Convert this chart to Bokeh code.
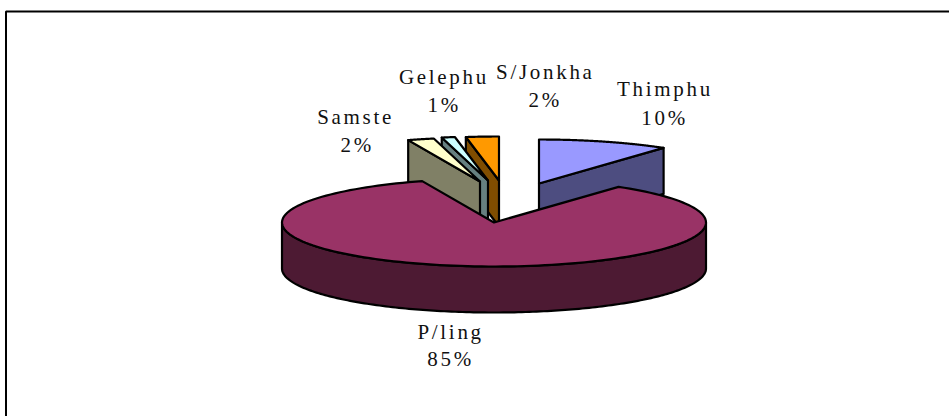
import numpy as np
from bokeh.plotting import figure
from bokeh.models import ColumnDataSource, Range1d
from bokeh.core.properties import value
from bokeh.embed import file_html
from bokeh.resources import INLINE

# ---- data
categories = ["Thimphu", "P/ling", "Samste", "Gelephu", "S/Jonkha"]
shares = [10.0, 84.5, 2.0, 1.0, 2.5]          # slice sizes as drawn
percent_labels = ["10%", "85%", "2%", "1%", "2%"]

# ---- styles and layout
top_colors = ["#9999ff", "#993366", "#ffffcc", "#ccffff", "#ff9900"]
wall_colors = ["#4d4d80", "#4d1a33", "#808066", "#668080", "#804d00"]
explode_dx = [45, 0, -14, -6, 5]
explode_dy = [-39, 0, -41, -42, -42]
name_x = [655, 442, 347, 434, 534]
pct_x = [660, 446, 354, 441, 542]
label_y1 = [88, 331, 116, 76, 71]
label_y2 = [117, 358, 144, 104, 99]
draw_order = [0, 4, 3, 2, 1]
W, H = 949, 416
CX, CY, RX, RY, DEPTH = 493.5, 222, 212, 44, 46
LW = 2.2

p = figure(width=W, height=H, output_backend="svg", toolbar_location=None,
           x_range=Range1d(0, W), y_range=Range1d(H, 0), min_border=0)
p.styles = {"letter-spacing": "2.7px"}
p.axis.visible = False
p.grid.visible = False
p.outline_line_color = None
p.background_fill_color = "white"


def rim(theta_deg, cx, cy):
    t = np.radians(theta_deg)
    return cx + RX * np.sin(t), cy - RY * np.cos(t)


def patch(xs, ys, color):
    p.patch(list(xs), list(ys), fill_color=color, line_color="black",
            line_width=LW, line_join="round")


edges = np.concatenate([[0.0], np.cumsum(shares)]) / sum(shares) * 360.0
for i in draw_order:
    a0, a1 = edges[i], edges[i + 1]
    cx, cy = CX + explode_dx[i], CY + explode_dy[i]
    ang = np.linspace(a0, a1, 160)
    ax, ay = rim(ang, cx, cy)
    if i == 1:
        front = np.linspace(90, 270, 180)
        fx, fy = rim(front, cx, cy)
        patch(np.r_[fx, fx[::-1]], np.r_[fy, fy[::-1] + DEPTH], wall_colors[i])
    elif i == 0:
        ex, ey = rim(a1, cx, cy)
        patch([cx, ex, ex, cx], [cy, ey, ey + DEPTH, cy + DEPTH], wall_colors[i])
    else:
        sx, sy = rim(a0, cx, cy)
        patch([cx, sx, sx, cx], [cy, sy, sy + DEPTH, cy + DEPTH], wall_colors[i])
    patch(np.r_[cx, ax], np.r_[cy, ay], top_colors[i])

src = ColumnDataSource(dict(nx=name_x, px=pct_x, y1=label_y1, y2=label_y2,
                            name=categories, pct=percent_labels))
for xcol, ycol, tcol in (("nx", "y1", "name"), ("px", "y2", "pct")):
    p.text(x=xcol, y=ycol, text=tcol, source=src,
           text_font=value("Liberation Serif"), text_font_size="21px",
           text_color="#111111", text_align="center", text_baseline="middle")

# chart frame: only its top and left edges show in the reference
p.line([W, 5.5, 5.5], [11, 11, H], line_color="black", line_width=2)

open("out.html", "w").write(file_html(p, INLINE))
